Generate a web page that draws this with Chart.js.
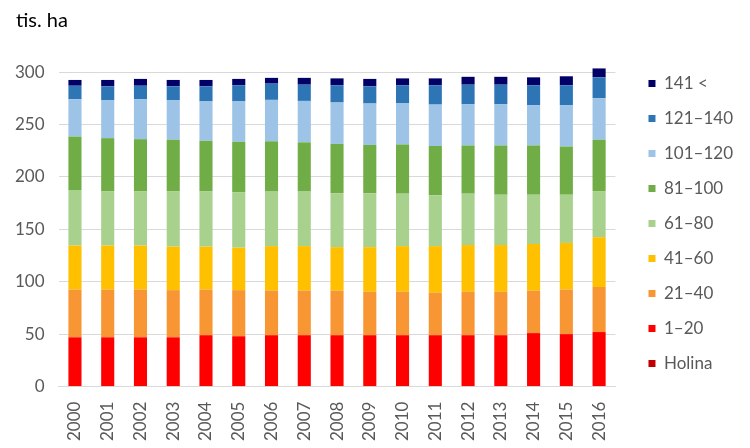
<!DOCTYPE html>
<html>
<head>
  <meta charset="UTF-8">
  <title>Plocha podle věkových stupňů</title>
  <script src="https://cdn.jsdelivr.net/npm/chart.js"></script>
  <style>
    body { margin: 0; background: #fff; font-family: Lato, sans-serif; }
    .wrap { position: relative; width: 750px; height: 448px; }
    .unit { position: absolute; left: 16px; top: 7px; font-size: 20px; color: #000; }
    canvas { position: absolute; left: 0; top: 0; }
  </style>
</head>
<body>
  <div class="wrap">
    <canvas id="chart" width="750" height="448"></canvas>
    <div class="unit">tis. ha</div>
  </div>

  <script>
    const years = ["2000","2001","2002","2003","2004","2005","2006","2007","2008",
                   "2009","2010","2011","2012","2013","2014","2015","2016"];

    // values in thousand ha, per age class
    const holina  = [0, 0, 0, 0, 0, 0, 0, 0, 0, 0, 0, 0, 0, 0, 0, 0, 0];
    const c1_20   = [47, 47, 47, 47, 49, 48, 49, 49, 49, 49, 49, 49, 49, 49, 51, 50, 52];
    const c21_40  = [45.5, 45.5, 45.5, 45, 43.5, 44, 42.5, 42.5, 42.5, 41.5, 41.5, 40.5, 41.5, 41.5, 40.5, 42.5, 43];
    const c41_60  = [42, 42, 42, 41.5, 41, 40.5, 42.5, 42.5, 41.5, 42.5, 43.5, 44.5, 44.5, 44.5, 44.5, 44.5, 47.5];
    const c61_80  = [53, 52, 52, 53, 53, 53, 52, 52, 51.5, 51.5, 50, 48.5, 49, 48, 47, 46, 44];
    const c81_100 = [51, 50.5, 49.5, 49, 48, 48, 48, 47, 47, 46, 47, 47, 46, 47, 47, 46, 49];
    const c101_120 = [35.5, 36, 38, 37.5, 37.5, 38.5, 39.5, 39.5, 39.5, 39.5, 39.5, 39.5, 39.5, 39.5, 38.5, 39.5, 39.5];
    const c121_140 = [13, 13.5, 13, 13.5, 14.5, 15.5, 15.5, 15.5, 16.5, 16.5, 17, 18.5, 18.5, 18.5, 19, 19, 20];
    const c141     = [5.5, 6, 6.5, 6, 6, 6, 5.5, 6.5, 6.5, 7, 6.5, 6.5, 7.5, 7.5, 7.5, 8.5, 8.5];

    const yTicks = [0, 50, 100, 150, 200, 250, 300];

    const series = [
      { label: "Holina",  data: holina,   color: "#C00000" },
      { label: "1–20",    data: c1_20,    color: "#FF0000" },
      { label: "21–40",   data: c21_40,   color: "#F79633" },
      { label: "41–60",   data: c41_60,   color: "#FFC000" },
      { label: "61–80",   data: c61_80,   color: "#A9D18E" },
      { label: "81–100",  data: c81_100,  color: "#70AD47" },
      { label: "101–120", data: c101_120, color: "#9DC3E6" },
      { label: "121–140", data: c121_140, color: "#2E75B6" },
      { label: "141 <",   data: c141,     color: "#000066" }
    ];

    const font = { family: "Lato, sans-serif", size: 17 };

    new Chart(document.getElementById("chart").getContext("2d"), {
      type: "bar",
      data: {
        labels: years,
        datasets: series.map(s => ({
          label: s.label,
          data: s.data,
          backgroundColor: s.color,
          borderWidth: 0,
          categoryPercentage: 1,
          barPercentage: 0.4,
          clip: false
        }))
      },
      options: {
        responsive: false,
        animation: false,
        layout: { padding: { top: 57, left: 1, right: 7, bottom: 0 } },
        plugins: {
          tooltip: { enabled: false },
          legend: {
            position: "right",
            align: "start",
            reverse: true,
            labels: {
              boxWidth: 7,
              boxHeight: 7,
              padding: 18,
              color: "#595959",
              font: font
            }
          }
        },
        scales: {
          x: {
            stacked: true,
            grid: { display: false },
            border: { color: "#D9D9D9" },
            ticks: { color: "#595959", font: font, minRotation: 90, maxRotation: 90, padding: 7 }
          },
          y: {
            stacked: true,
            min: 0,
            max: 314.4,
            afterBuildTicks: axis => { axis.ticks = yTicks.map(v => ({ value: v })); },
            grid: { color: "#D9D9D9", drawTicks: false },
            border: { display: false },
            ticks: { color: "#595959", font: font, padding: 14 }
          },
          // empty axis that only keeps a gap between the bars and the legend
          gap: {
            position: "right",
            grid: { display: false },
            border: { display: false },
            ticks: { display: false },
            afterFit: axis => { axis.width = 15; }
          }
        }
      }
    });
  </script>
</body>
</html>
